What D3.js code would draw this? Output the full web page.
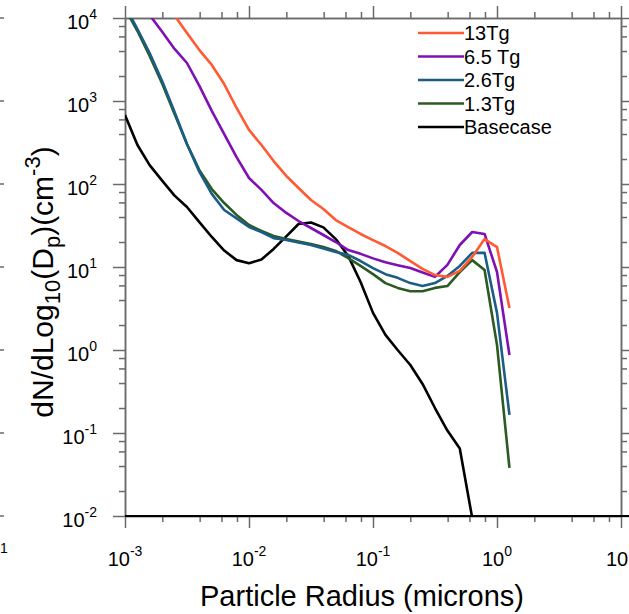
<!DOCTYPE html>
<html>
<head>
<meta charset="utf-8">
<script src="https://cdn.jsdelivr.net/npm/d3@7"></script>
<style>
  body { margin: 0; background: #fff; }
  svg { display: block; font-family: "Liberation Sans", Arial, sans-serif; }
</style>
</head>
<body>
<svg width="629" height="614"></svg>
<script>
// particle radius (microns), one value per size bin
const radius = [0.00100, 0.00126, 0.00158, 0.00200, 0.00251, 0.00316, 0.00398, 0.00501,
  0.00631, 0.00794, 0.0100, 0.0126, 0.0158, 0.0200, 0.0251, 0.0316, 0.0398, 0.0501,
  0.0631, 0.0794, 0.100, 0.126, 0.158, 0.200, 0.251, 0.316, 0.398, 0.501, 0.631,
  0.794, 1.00, 1.26];

// dN/dLog10(Dp) in cm^-3
const tg13 = [78000, 47000, 28700, 17400, 10700, 6590, 4110, 2720, 1600, 824, 448, 295,
  189, 125, 89.5, 64.1, 50.0, 36.8, 30.3, 25.0, 21.1, 17.9, 14.8, 11.8, 9.5, 8.0, 7.6,
  9.0, 13.2, 21.7, 17.4, 3.2];
const tg65 = [28000, 17400, 10870, 6780, 4240, 2870, 1520, 760, 400, 211, 118, 85, 59,
  44.8, 35.8, 29.5, 24.3, 20.0, 16.0, 14.4, 12.7, 11.4, 10.5, 9.7, 8.6, 7.6, 10.6, 18.4,
  26.4, 25.0, 8.7, 0.87];
const tg26 = [14000, 7360, 3790, 1715, 736, 303, 140, 76, 48.6, 38.5, 30.3, 26.4, 22.3,
  21.1, 19.7, 18.4, 16.7, 15.2, 14.0, 11.8, 9.7, 8.2, 7.4, 6.4, 5.9, 6.4, 7.8, 10.3,
  14.8, 14.8, 2.8, 0.165];
const tg1_3 = [13000, 6970, 3480, 1600, 697, 303, 147, 87, 59, 42.4, 32.1, 27.2, 23.6,
  21.7, 20.3, 18.9, 17.4, 15.6, 12.8, 10.3, 8.2, 6.4, 5.6, 5.1, 5.1, 5.6, 5.9, 8.7,
  12.1, 9.2, 1.15, 0.038];
const basecase = [678, 295, 169, 109, 72.5, 52.8, 34.8, 23.0, 15.8, 12.1, 11.1, 12.3,
  16.5, 23.4, 33.0, 34.3, 30.0, 21.7, 13.6, 6.6, 2.8, 1.52, 1.0, 0.66, 0.39, 0.2, 0.107,
  0.065, 0.0095, 0.0002];

const seriesNames = ['13Tg', '6.5 Tg', '2.6Tg', '1.3Tg', 'Basecase'];
const seriesColors = ['#ff5a33', '#7f10b4', '#1b5d86', '#2b5a23', '#000000'];
const seriesValues = [tg13, tg65, tg26, tg1_3, basecase];

const xExponents = [-3, -2, -1, 0, 1];
const yExponents = [-2, -1, 0, 1, 2, 3, 4];

const svg = d3.select('svg');
const plotLeft = 125, plotRight = 621, plotTop = 18, plotBottom = 516;

const x = d3.scaleLog().domain([1e-3, 10]).range([plotLeft, plotRight]);
const y = d3.scaleLog().domain([1e-2, 1e4]).range([plotBottom, plotTop]);

const minorOf = (exps) => {
  const out = [];
  exps.slice(0, -1).forEach(e => [2, 4, 6, 8].forEach(m => out.push(m * Math.pow(10, e))));
  return out;
};
const xMajor = xExponents.map(e => Math.pow(10, e));
const yMajor = yExponents.map(e => Math.pow(10, e));

// axes: ticks point outward on all four sides
const axisColor = '#6a6a6a';
function drawAxis(axisFn, scale, ticks, size, transform) {
  const g = svg.append('g')
    .attr('transform', transform)
    .call(axisFn(scale).tickValues(ticks).tickSize(size).tickSizeOuter(0).tickFormat(''));
  g.selectAll('path').attr('stroke', axisColor).attr('stroke-width', 1.5);
  g.selectAll('line').attr('stroke', axisColor).attr('stroke-width', 1.5);
  return g;
}
drawAxis(d3.axisLeft, y, yMajor, 12, `translate(${plotLeft},0)`);
drawAxis(d3.axisLeft, y, minorOf(yExponents), 6, `translate(${plotLeft},0)`);
drawAxis(d3.axisRight, y, yMajor, 12, `translate(${plotRight},0)`);
drawAxis(d3.axisRight, y, minorOf(yExponents), 6, `translate(${plotRight},0)`);
drawAxis(d3.axisBottom, x, xMajor, 12, `translate(0,${plotBottom})`);
drawAxis(d3.axisBottom, x, minorOf(xExponents), 6, `translate(0,${plotBottom})`);
drawAxis(d3.axisTop, x, xMajor, 12, `translate(0,${plotTop})`);
drawAxis(d3.axisTop, x, minorOf(xExponents), 6, `translate(0,${plotTop})`);

// tick labels 10^n
svg.append('g').selectAll('text')
  .data(yExponents)
  .enter()
  .append('text')
  .attr('x', 97)
  .attr('y', e => y(Math.pow(10, e)) + 11)
  .attr('text-anchor', 'end')
  .attr('font-size', 20)
  .each(function (e) {
    const t = d3.select(this);
    t.append('tspan').text('10');
    t.append('tspan').attr('dy', -10).attr('font-size', 14).text(e);
  });

svg.append('g').selectAll('text')
  .data(xExponents)
  .enter()
  .append('text')
  .attr('x', e => x(Math.pow(10, e)))
  .attr('y', 566)
  .attr('text-anchor', 'middle')
  .attr('font-size', 20)
  .each(function (e) {
    const t = d3.select(this);
    t.append('tspan').text('10');
    t.append('tspan').attr('dy', -10).attr('font-size', 14).text(e);
  });

// curves
svg.append('clipPath').attr('id', 'plotClip')
  .append('rect')
  .attr('x', plotLeft).attr('y', plotTop)
  .attr('width', plotRight - plotLeft).attr('height', plotBottom - plotTop);

const line = d3.line()
  .x((d, i) => x(radius[i]))
  .y(d => y(d));

svg.append('g')
  .attr('clip-path', 'url(#plotClip)')
  .selectAll('path')
  .data(seriesValues.slice().reverse())
  .enter()
  .append('path')
  .attr('d', line)
  .attr('fill', 'none')
  .attr('stroke', (d, i) => seriesColors[seriesColors.length - 1 - i])
  .attr('stroke-width', 2.6)
  .attr('stroke-linejoin', 'round');

// bottom border drawn dark
svg.append('line')
  .attr('x1', plotLeft).attr('x2', 629)
  .attr('y1', plotBottom).attr('y2', plotBottom)
  .attr('stroke', '#000').attr('stroke-width', 2.2);

// legend
const legend = svg.append('g').selectAll('g')
  .data(seriesNames)
  .enter()
  .append('g')
  .attr('transform', (d, i) => `translate(418,${33 + i * 23.5})`);
legend.append('line')
  .attr('x1', 0).attr('x2', 46)
  .attr('stroke', (d, i) => seriesColors[i])
  .attr('stroke-width', 2.6);
legend.append('text')
  .attr('x', 46).attr('y', 7)
  .attr('font-size', 20)
  .text(d => d);

// axis titles
svg.append('text')
  .attr('x', 362).attr('y', 606)
  .attr('text-anchor', 'middle')
  .attr('font-size', 29)
  .text('Particle Radius (microns)');

const yTitle = svg.append('text')
  .attr('transform', `translate(53,282) rotate(-90)`)
  .attr('text-anchor', 'middle')
  .attr('font-size', 30);
yTitle.append('tspan').text('dN/dLog');
yTitle.append('tspan').attr('font-size', 22).attr('dy', 7).text('10');
yTitle.append('tspan').attr('dy', -7).text('(D');
yTitle.append('tspan').attr('font-size', 22).attr('dy', 7).text('p');
yTitle.append('tspan').attr('dy', -7).text(')(cm');
yTitle.append('tspan').attr('font-size', 22).attr('dy', -13).text('-3');
yTitle.append('tspan').attr('dy', 13).text(')');

// edge of the neighbouring panel, cut by the frame
svg.append('g').selectAll('line')
  .data(yMajor)
  .enter()
  .append('line')
  .attr('x1', 0).attr('x2', 4)
  .attr('y1', d => y(d)).attr('y2', d => y(d))
  .attr('stroke', axisColor).attr('stroke-width', 1.5);
svg.append('text')
  .attr('x', 0).attr('y', 553)
  .attr('font-size', 14)
  .text('1');
</script>
</body>
</html>
